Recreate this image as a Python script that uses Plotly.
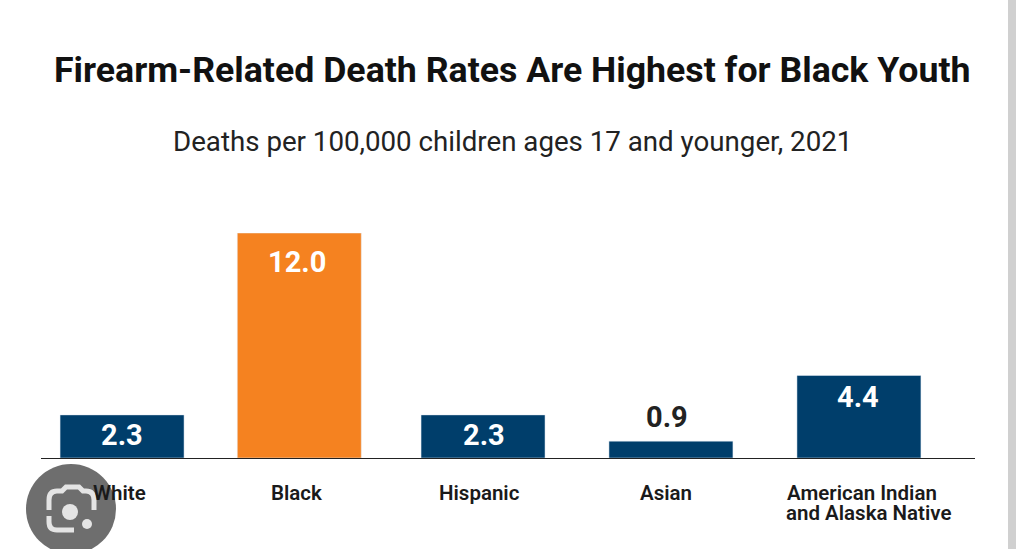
import plotly.graph_objects as go

categories = ["White", "Black", "Hispanic", "Asian", "American Indian<br>and Alaska Native"]
values = [2.3, 12.0, 2.3, 0.9, 4.4]
labels = ["2.3", "12.0", "2.3", "0.9", "4.4"]
colors = ["#003e6b", "#f58220", "#003e6b", "#003e6b", "#003e6b"]
text_colors = ["white", "white", "white", "#222222", "white"]
label_shift_y = [-20, -29, -20, 24, -21]
label_shift_x = [0, -9, -7, -8, -1]
tick_shift_x = [[-3], [-10], [-11], [-9], [3, 10]]
bar_offsets = [-0.3365, -0.3745, -0.377, -0.357, -0.3365]

W, H = 1024, 549
L, R, T, B = 41, 975, 233, 458
FONT = "Roboto, sans-serif"


def px(x):
    return (x - L) / (R - L)


def py(y):
    return (B - y) / (B - T)


def path(points):
    out = []
    for p in points:
        if isinstance(p, str):
            out.append(p)
        else:
            out.append(f"{px(p[0]):.5f},{py(p[1]):.5f}")
    return " ".join(out)


fig = go.Figure(go.Bar(
    x=categories, y=values, marker_color=colors, width=0.673, offset=bar_offsets,
    cliponaxis=False,
))

annotations = [
    dict(x=c, y=v, xref="x", yref="y", text=t, xshift=sx, yshift=sy, showarrow=False,
         xanchor="center", yanchor="middle",
         font=dict(family=FONT, size=29, color=col, weight=700))
    for c, v, t, sx, sy, col in zip(categories, values, labels, label_shift_x, label_shift_y, text_colors)
]
for c, shifts in zip(categories, tick_shift_x):
    for i, (line, sx) in enumerate(zip(c.split("<br>"), shifts)):
        annotations.append(dict(
            x=c, xref="x", yref="paper", y=py(493 + 20 * i), text=line, xshift=sx,
            showarrow=False, xanchor="center", yanchor="middle",
            font=dict(family=FONT, size=20.5, color="#1a1a1a", weight=600)))
annotations += [
    dict(text="<b>Firearm-Related Death Rates Are Highest for Black Youth</b>",
         xref="paper", yref="paper", x=px(512), y=py(70), showarrow=False,
         xanchor="center", yanchor="middle",
         font=dict(family=FONT, size=35.7, color="#111111")),
    dict(text="Deaths per 100,000 children ages 17 and younger, 2021",
         xref="paper", yref="paper", x=px(512.5), y=py(141), showarrow=False,
         xanchor="center", yanchor="middle",
         font=dict(family=FONT, size=27.7, color="#222222")),
]

icon_line = dict(color="#e4e4e4", width=5)
shapes = [
    dict(type="rect", xref="paper", yref="paper", x0=px(1008), x1=px(1016), y0=py(0), y1=py(549),
         fillcolor="#d0d0d0", line_width=0, layer="below"),
    dict(type="circle", xref="paper", yref="paper", x0=px(26), x1=px(116), y0=py(464), y1=py(554),
         fillcolor="#6e6e6e", line_width=0, layer="below"),
    dict(type="path", xref="paper", yref="paper", layer="below", line=icon_line,
         path=path(["M", (49, 510), "L", (49, 500), "Q", (49, 491), (57, 491), "L", (62, 491), "L", (66, 487),
                    "L", (79, 487), "L", (83, 491), "L", (86, 491), "Q", (94, 491), (94, 500), "L", (94, 510),
                    "M", (49, 516), "L", (49, 522), "Q", (49, 530), (57, 530), "L", (74, 530)])),
    dict(type="circle", xref="paper", yref="paper", x0=px(62), x1=px(78), y0=py(504), y1=py(520),
         fillcolor="#e4e4e4", line_width=0, layer="below"),
    dict(type="circle", xref="paper", yref="paper", x0=px(82), x1=px(92), y0=py(519), y1=py(529),
         fillcolor="#e4e4e4", line_width=0, layer="below"),
]

fig.update_layout(
    width=W, height=H, margin=dict(l=L, r=W - R, t=T, b=H - B, autoexpand=False),
    paper_bgcolor="white", plot_bgcolor="white", showlegend=False,
    annotations=annotations, shapes=shapes,
    xaxis=dict(showline=True, linecolor="#222222", linewidth=1, ticks="",
               range=[-0.44, 4.63], showticklabels=False, fixedrange=True),
    yaxis=dict(range=[0, 12], visible=False, fixedrange=True),
)
fig.write_html("out.html", config={"displayModeBar": False},
               post_script="document.body.style.margin='0';")
